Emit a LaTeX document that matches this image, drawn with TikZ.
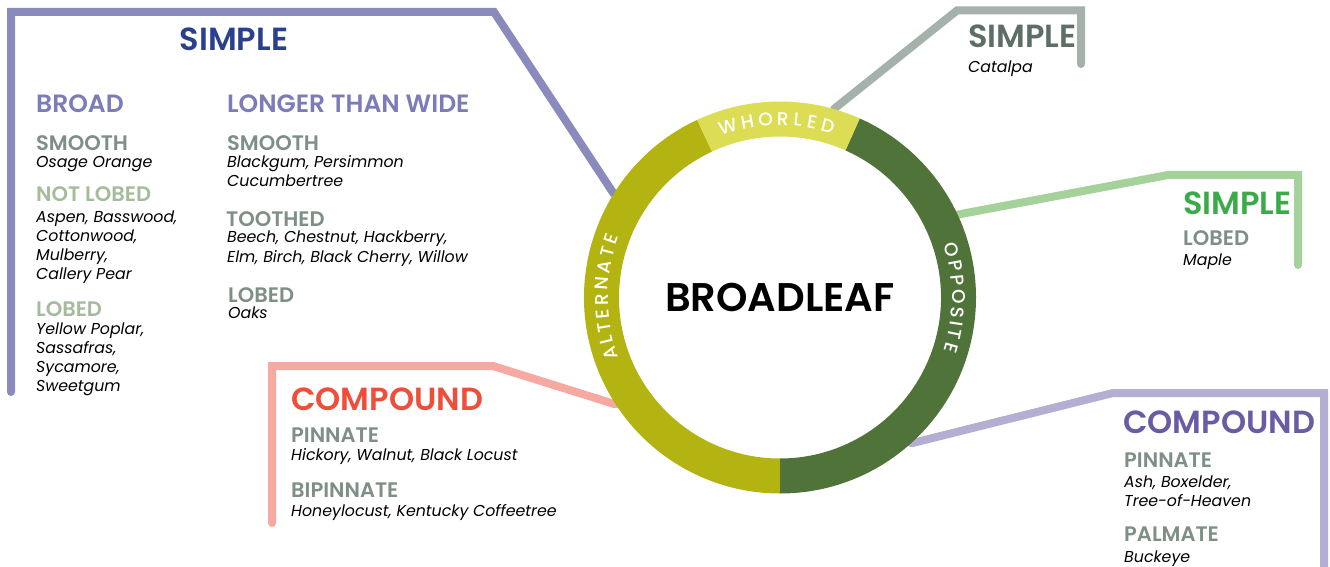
\documentclass[tikz,border=0pt]{standalone}
\usepackage{fontspec}
\setmainfont{Poppins}
\newfontfamily\semib{Poppins SemiBold}
\newfontfamily\medf{Poppins Medium}
\definecolor{lineL}{HTML}{8A8ABD}
\definecolor{simpL}{HTML}{2B3F8F}
\definecolor{subL}{HTML}{7C7CB9}
\definecolor{graytxt}{HTML}{7E8F86}
\definecolor{lgreen}{HTML}{A4BC9B}
\definecolor{lineS}{HTML}{F6A9A0}
\definecolor{compS}{HTML}{EE4E3A}
\definecolor{lineG}{HTML}{A4B2AB}
\definecolor{simpG}{HTML}{5D6E66}
\definecolor{lineM}{HTML}{A5D19B}
\definecolor{simpM}{HTML}{3BAA48}
\definecolor{lineP}{HTML}{B5AED3}
\definecolor{compP}{HTML}{6A5CA3}
\definecolor{altc}{HTML}{B3B312}
\definecolor{whoc}{HTML}{DCDC55}
\definecolor{oppc}{HTML}{4F7339}
\tikzset{
  conn/.style={line width=8pt, line cap=round, line join=miter},
  hbig/.style={font=\semib\fontsize{32}{36}\selectfont, inner sep=0pt, anchor=base west},
  hmid/.style={font=\semib\fontsize{25}{28}\selectfont, inner sep=0pt, anchor=base west},
  hsml/.style={font=\semib\fontsize{21}{24}\selectfont, inner sep=0pt, anchor=base west, text=graytxt},
  spec/.style={font=\itshape\fontsize{15.8}{19}\selectfont, inner sep=0pt, anchor=base west, align=left},
  ringtxt/.style={font=\medf\fontsize{18.5}{22}\selectfont, text=white, inner sep=0pt},
}
\begin{document}
\begin{tikzpicture}[x=1pt,y=1pt]
\useasboundingbox (0,0) rectangle (1330,566);
\fill[white] (0,0) rectangle (1330,566);
\node[circle, minimum size=392pt, inner sep=0pt, draw=none] (ring) at (780,268.5) {};
% free ends
\coordinate (eL) at (11,174);
\coordinate (eS) at (272,43);
\coordinate (eG) at (1081,502);
\coordinate (eM) at (1298,301);
\coordinate (eP) at (1324,-12);
% connectors
\draw[conn, lineL] (eL) -- (11,554) -- (494,554) -- (ring.148);
\draw[conn, lineS] (eS) -- (272,200) -- (493,200) -- (ring.213);
\draw[conn, lineG] (ring.74) -- (957,555.5) -- (1081,555.5) -- (eG);
\draw[conn, lineM] (ring.25) -- (1168,391) -- (1298,391) -- (eM);
\draw[conn, lineP] (ring.-48) -- (1113,173) -- (1324,173) -- (eP);
% ring
\begin{scope}[shift={(780,268.5)}]
  \fill[altc] (115:196) arc (115:270:196) -- (270:161) arc (270:115:161) -- cycle;
  \fill[oppc] (-90:196) arc (-90:66:196) -- (66:161) arc (66:-90:161) -- cycle;
  \fill[whoc] (66:196) arc (66:115:196) -- (115:161) arc (115:66:161) -- cycle;
  \foreach \ch/\a [count=\i] in {W/107,H/100.53,O/94.64,R/89.06,L/84.26,E/79.65,D/74.40}
    \node[ringtxt, rotate=\a-90] (wh\i) at (\a:178.5) {\ch};
  \foreach \ch/\a [count=\i] in {A/198.4,L/193.75,T/189.6,E/185.25,R/180.65,N/175.5,A/170.1,T/165.3,E/160.9}
    \node[ringtxt, rotate=\a-90] (al\i) at (\a:178.5) {\ch};
  \foreach \ch/\a [count=\i] in {O/15.6,P/10.36,P/5.58,O/0.34,S/-4.8,I/-8.41,T/-11.89,E/-16.3}
    \node[ringtxt, rotate=\a-90] (op\i) at (\a:178.5) {\ch};
\end{scope}
\node[font=\semib\fontsize{40}{44}\selectfont, inner sep=0pt] (broadleaf) at (780,268.5) {BROADLEAF};
% left simple box
\node[hbig, text=simpL, anchor=base] (simpleL) at (234,515) {SIMPLE};
\node[hmid, text=subL] (broad) at (36,453) {BROAD};
\node[hmid, text=subL] (longer) at (227,453) {LONGER THAN WIDE};
\node[hsml] (smoothA) at (36,415) {SMOOTH};
\node[spec] (osage) at (36,399) {Osage Orange};
\node[hsml, text=lgreen] (notlobed) at (36,365) {NOT LOBED};
\node[spec] (aspen) at (36,287) {Aspen, Basswood,\\Cottonwood,\\Mulberry,\\Callery Pear};
\node[hsml, text=lgreen] (lobedA) at (36,250) {LOBED};
\node[spec] (poplar) at (36,175) {Yellow Poplar,\\Sassafras,\\Sycamore,\\Sweetgum};
\node[hsml] (smoothB) at (227,415) {SMOOTH};
\node[spec, font=\itshape\fontsize{15.8}{20}\selectfont] (blackgum) at (227,379) {Blackgum, Persimmon\\Cucumbertree};
\node[hsml] (toothed) at (226,340) {TOOTHED};
\node[spec, font=\itshape\fontsize{15.8}{20}\selectfont] (beech) at (227,304) {Beech, Chestnut, Hackberry,\\Elm, Birch, Black Cherry, Willow};
\node[hsml] (lobedB) at (228,264) {LOBED};
\node[spec] (oaks) at (228,248) {Oaks};
% left compound
\node[hbig, text=compS] (compL) at (291,156) {COMPOUND};
\node[hsml] (pinL) at (291,124) {PINNATE};
\node[spec] (hickory) at (291,106) {Hickory, Walnut, Black Locust};
\node[hsml] (bipin) at (291,69) {BIPINNATE};
\node[spec] (honey) at (291,50) {Honeylocust, Kentucky Coffeetree};
% top right simple
\node[hbig, text=simpG] (simpleG) at (968,518) {SIMPLE};
\node[spec] (catalpa) at (968,493) {Catalpa};
% right simple
\node[hbig, text=simpM] (simpleM) at (1183,352) {SIMPLE};
\node[hsml] (lobedM) at (1183,321) {LOBED};
\node[spec] (maple) at (1183,301) {Maple};
% bottom right compound
\node[hbig, text=compP] (compR) at (1123,133) {COMPOUND};
\node[hsml] (pinR) at (1124,99) {PINNATE};
\node[spec] (ash) at (1124,60) {Ash, Boxelder,\\Tree-of-Heaven};
\node[hsml] (palm) at (1124,25) {PALMATE};
\node[spec] (buck) at (1124,4) {Buckeye};
\end{tikzpicture}
\end{document}
